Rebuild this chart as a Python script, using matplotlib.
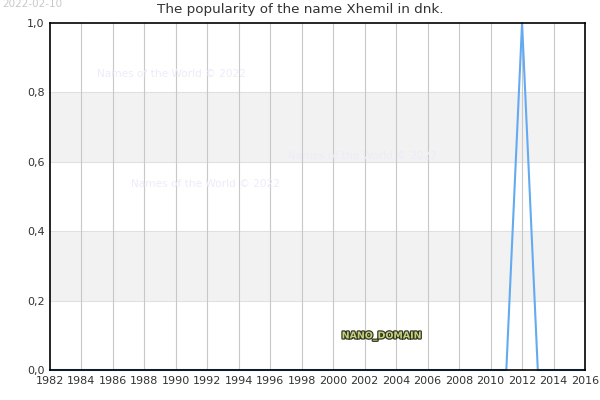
import matplotlib
matplotlib.use("Agg")
import matplotlib.pyplot as plt
import matplotlib.patheffects as pe

years = list(range(1982, 2017))
values = [0.0] * len(years)
values[years.index(2012)] = 1.0
xticks = list(range(1982, 2017, 2))
yticks = [0.0, 0.2, 0.4, 0.6, 0.8, 1.0]
ytick_labels = ["0,0", "0,2", "0,4", "0,6", "0,8", "1,0"]
bands = [(0.2, 0.4), (0.6, 0.8)]

fig = plt.figure(figsize=(6, 4), dpi=100)
ax = fig.add_axes([50/600, 30/400, 535/600, 347/400])

for lo, hi in bands:
    ax.axhspan(lo, hi, color="#f2f2f2", zorder=0, lw=0)
for y in yticks[1:-1]:
    ax.axhline(y, color="#e0e0e0", lw=0.8, zorder=1)
for x in xticks[1:-1]:
    ax.axvline(x, color="#c8c8c8", lw=0.8, zorder=1)

ax.plot(years, values, color="#64aaf0", lw=1.5, zorder=3, clip_on=False)

ax.set_xlim(1982, 2016)
ax.set_ylim(0, 1)
ax.set_xticks(xticks)
ax.set_xticklabels([str(x) for x in xticks])
ax.set_yticks(yticks)
ax.set_yticklabels(ytick_labels)
ax.tick_params(length=0, labelsize=8, colors="#333333", pad=4)
for s in ax.spines.values():
    s.set_color("black")
    s.set_linewidth(1.2)
    s.set_zorder(4)

fig.text(0.5, 1 - 10/400, "The popularity of the name Xhemil in dnk.", fontsize=9.7,
         color="#333333", ha="center", va="center")

wm_color = "#ececfa"
fig.text(171/600, 1 - 74/400, "Names of the World © 2022", fontsize=7.6, color=wm_color, ha="center", va="center")
fig.text(362/600, 1 - 156/400, "Names of the World © 2022", fontsize=7.6, color=wm_color, ha="center", va="center")
fig.text(205/600, 1 - 184/400, "Names of the World © 2022", fontsize=7.6, color=wm_color, ha="center", va="center")
fig.text(2/600, 1 - 4/400, "2022-02-10", fontsize=7.5, color="#c8c8c8", ha="left", va="center")

t = fig.text(382/600, 1 - 336/400, "NANO_DOMAIN", fontsize=6.8, color="#c8d080", ha="center", va="center", weight="bold")
t.set_path_effects([pe.withStroke(linewidth=1.8, foreground="#333822")])

fig.savefig("out.png", dpi=100)
